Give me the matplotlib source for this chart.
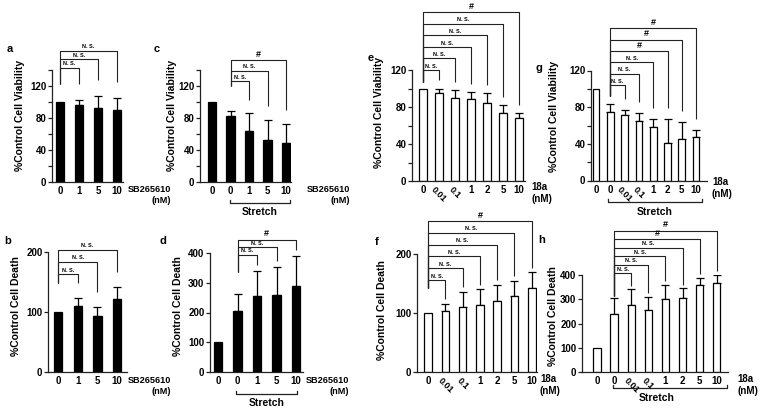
import matplotlib
matplotlib.use('Agg')
import matplotlib.pyplot as plt
import matplotlib.transforms as mtransforms
import numpy as np

plt.rcParams['font.family'] = ['Liberation Sans', 'DejaVu Sans']
plt.rcParams['font.weight'] = 'bold'

W, H = 760, 412

# x tick labels
sb_ticks = ['0', '1', '5', '10']
sb_stretch_ticks = ['0', '0', '1', '5', '10']
a18_ticks = ['0', '0.01', '0.1', '1', '2', '5', '10']
a18_stretch_ticks = ['0', '0', '0.01', '0.1', '1', '2', '5', '10']

# values (mean, upper SD)
a_mean = [100, 96, 93, 90]
a_err = [0, 7, 14, 15]
a_sig = ['N. S.', 'N. S.', 'N. S.']

b_mean = [100, 110, 94, 122]
b_err = [0, 14, 14, 19]
b_sig = ['N. S.', 'N. S.', 'N. S.']

c_mean = [100, 82, 64, 52, 49]
c_err = [0, 7, 22, 26, 24]
c_sig = ['N. S.', 'N. S.', '#']

d_mean = [100, 205, 255, 260, 290]
d_err = [0, 57, 83, 92, 100]
d_sig = ['N. S.', 'N. S.', '#']

e_mean = [100, 95, 90, 89, 84, 73, 68]
e_err = [0, 5, 8, 7, 11, 9, 5]
e_sig = ['N. S.', 'N. S.', 'N. S.', 'N. S.', 'N. S.', '#']

f_mean = [100, 103, 111, 114, 121, 128, 143]
f_err = [0, 12, 25, 26, 27, 27, 26]
f_sig = ['N. S.', 'N. S.', 'N. S.', 'N. S.', 'N. S.', '#']

g_mean = [100, 75, 71, 65, 58, 41, 45, 47]
g_err = [0, 8, 6, 9, 9, 26, 19, 8]
g_sig = ['N. S.', 'N. S.', 'N. S.', '#', '#', '#']

h_mean = [100, 240, 277, 255, 300, 305, 358, 368]
h_err = [0, 65, 64, 56, 60, 40, 30, 33]
h_sig = ['N. S.', 'N. S.', 'N. S.', 'N. S.', '#', '#']

LINE = '#222222'
fig = plt.figure(figsize=(W / 100, H / 100), dpi=100)


def px(x, y):
    return x / W, 1 - y / H


def panel(lay, ticks, mean, err, sig, ref, fill, ymax, major, minor,
          br_base, br_step, gap_l, gap_r, width):
    left, first, step, right, y0, ytop = lay
    ax = fig.add_axes([left / W, 1 - y0 / H, (right - left) / W, (y0 - ytop) / H])
    x = np.arange(len(mean))
    ax.set_xlim((left - first) / step, (right - first) / step)
    ax.set_ylim(0, ymax)
    ax.bar(x, mean, width=width, color=fill, edgecolor='black', linewidth=0.9, zorder=2)
    mean = np.array(mean, float)
    err = np.array(err, float)
    m = err > 0
    ax.errorbar(x[m], mean[m], yerr=[np.zeros(m.sum()), err[m]], fmt='none',
                ecolor='black', elinewidth=0.9, capsize=2.6, capthick=0.9, zorder=1)
    for s in ['top', 'right']:
        ax.spines[s].set_visible(False)
    for s in ['left', 'bottom']:
        ax.spines[s].set_linewidth(0.9)
        ax.spines[s].set_color(LINE)
    ax.set_yticks(np.arange(0, ymax + 1, major))
    ax.set_yticks(np.arange(0, ymax + 1, minor), minor=True)
    ax.tick_params(axis='y', which='both', direction='out', length=3, width=0.9,
                   color=LINE, labelsize=7, pad=1)
    ax.set_xticks(x)
    ax.set_xticklabels(ticks)
    ax.tick_params(axis='x', length=0, labelsize=7, pad=3)
    for lbl in ax.get_xticklabels():
        if '.' in lbl.get_text():
            lbl.set_rotation(-45)
            lbl.set_fontsize(6.5)
            lbl.set_va('top')
            lbl.set_ha('center')
    # significance brackets
    for k, j in enumerate(range(ref + 1, len(mean))):
        hy = br_base + br_step * k
        xl, xr = x[ref], x[j]
        yl = mean[ref] + err[ref] + gap_l
        yr = mean[j] + err[j] + gap_r
        ax.plot([xl, xl, xr, xr], [yl, hy, hy, yr], color=LINE, lw=0.8,
                clip_on=False, solid_capstyle='butt')
        fs = 6.5 if sig[k] == '#' else 4
        ax.text((xl + xr) / 2, hy + ymax * 0.012, sig[k], ha='center', va='bottom',
                fontsize=fs, fontweight='bold', clip_on=False)
    return ax


def stretch(ax, lay, i0, i1, py, text_x, text_y):
    left, first, step, right, y0, ytop = lay
    tr = mtransforms.blended_transform_factory(ax.transData, ax.transAxes)
    yf = (y0 - py) / (y0 - ytop)
    yt = (y0 - py + 3) / (y0 - ytop)
    ax.plot([i0, i0, i1, i1], [yt, yf, yf, yt], color=LINE, lw=0.9,
            transform=tr, clip_on=False)
    fig.text(*px(text_x, text_y), 'Stretch', ha='center', va='center',
             fontsize=7.5, fontweight='bold')


def label(x, y, s, size=8):
    fig.text(*px(x, y), s, ha='left', va='center', fontsize=size, fontweight='bold')


def ylab(x, y, s):
    fig.text(*px(x, y), s, ha='center', va='center', rotation=90,
             fontsize=7.5, fontweight='bold')


def unit(x, y, s, align='right', size=6.6):
    fig.text(*px(x, y), s + '\n(nM)', ha='left', va='top', fontsize=size,
             fontweight='bold', multialignment=align, linespacing=1.3)


# layouts: axis left px, first bar px, bar step px, axis right px, zero px, top px
lay_a = (52, 60, 19, 123, 182, 70)
lay_c = (200, 212, 18.5, 291, 182, 70)
lay_b = (48, 58, 19.7, 127, 372, 252)
lay_d = (210, 218, 19.5, 303, 372, 253)
lay_e = (412, 423, 16, 525, 181, 70)
lay_f = (417, 428, 17.3, 537, 372, 254)
lay_g = (591, 596, 14.3, 707, 180.5, 70.5)
lay_h = (582, 597, 17.1, 728, 372, 275)

ax_a = panel(lay_a, sb_ticks, a_mean, a_err, a_sig, 0, 'black', 140, 40, 20,
             143, 10.5, 23, 20, 0.4)
ax_b = panel(lay_b, sb_ticks, b_mean, b_err, b_sig, 0, 'black', 200, 100, 100,
             163, 20.5, 48, 25, 0.42)
ax_c = panel(lay_c, sb_stretch_ticks, c_mean, c_err, c_sig, 1, 'black', 140, 40, 20,
             126, 13.3, 31, 17, 0.44)
ax_d = panel(lay_d, sb_stretch_ticks, d_mean, d_err, d_sig, 1, 'black', 400, 100, 100,
             394, 25.5, 75, 20, 0.45)
ax_e = panel(lay_e, a18_ticks, e_mean, e_err, e_sig, 0, 'white', 120, 40, 20,
             120, 12.5, 7, 9, 0.46)
ax_f = panel(lay_f, a18_ticks, f_mean, f_err, f_sig, 0, 'white', 200, 100, 100,
             156, 20, 42, 8, 0.43)
ax_g = panel(lay_g, a18_stretch_ticks, g_mean, g_err, g_sig, 1, 'white', 120, 40, 20,
             104, 12.4, 9, 12, 0.47)
ax_h = panel(lay_h, a18_stretch_ticks, h_mean, h_err, h_sig, 1, 'white', 400, 100, 100,
             408, 35, 8, 15, 0.43)

stretch(ax_c, lay_c, 0.95, 4.2, 203, 260, 212)
stretch(ax_d, lay_d, 0.92, 4.05, 394, 267, 403)
stretch(ax_g, lay_g, 0.85, 7.4, 202, 655, 212)
stretch(ax_h, lay_h, 0.95, 7.6, 388, 657, 398)

for s, x, y in [('a', 7, 49), ('c', 154, 49), ('b', 4, 241), ('d', 159, 241),
                ('e', 368, 58), ('g', 536, 68), ('f', 375, 242), ('h', 538, 240)]:
    label(x, y, s)

ylab(20, 115, '%Control Cell Viability')
ylab(172, 115, '%Control Cell Viability')
ylab(16, 306, '%Control Cell Death')
ylab(178, 306, '%Control Cell Death')
ylab(379, 112, '%Control Cell Viability')
ylab(382, 310, '%Control Cell Death')
ylab(554, 116, '%Control Cell Viability')
ylab(553, 316, '%Control Cell Death')

unit(128, 185, 'SB265610')
unit(307, 185, 'SB265610')
unit(128, 376, 'SB265610')
unit(306, 376, 'SB265610')
unit(531, 182, '18a', 'left', 7)
unit(540, 374, '18a', 'left', 7)
unit(712, 177, '18a', 'left', 7)
unit(737, 374, '18a', 'left', 7)

fig.savefig('out.png', dpi=100, facecolor='white')
